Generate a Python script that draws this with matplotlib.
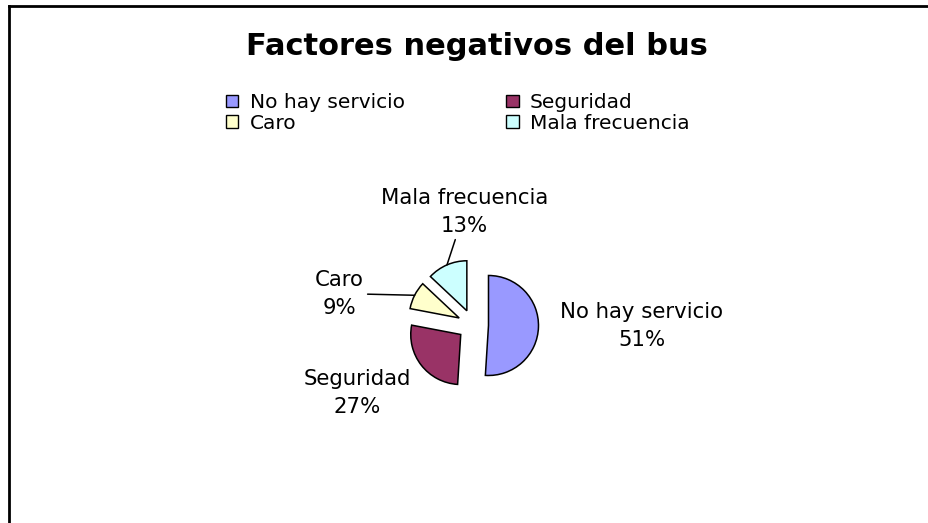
import numpy as np
import matplotlib
matplotlib.use("Agg")
import matplotlib.pyplot as plt
from matplotlib.patches import Patch
from matplotlib.lines import Line2D

# ---- data ----
categories = ["No hay servicio", "Seguridad", "Caro", "Mala frecuencia"]
values = [51, 27, 9, 13]
colors = ["#9999FF", "#993366", "#FFFFCC", "#CCFFFF"]
title = "Factores negativos del bus"

# label text positions (pie-radius units, relative to pie centre) and leader flags
label_pos = [(3.38, -0.02), (-2.32, -1.36), (-2.68, 0.63), (-0.17, 2.27)]
leader = [False, False, True, True]

W, H = 929, 523
fig = plt.figure(figsize=(W / 100, H / 100), dpi=100)
plt.rcParams['font.family'] = ['DejaVu Sans']

# axes spanning whole figure; 1 data unit = 50 px, pie centre at pixel (473, 325)
R = 50.0
cx, cy = 473.0, 325.0
ax = fig.add_axes([0, 0, 1, 1])
wedges, _ = ax.pie(values, colors=colors, startangle=90, counterclock=False,
                   explode=[0.31] * len(values), radius=1,
                   wedgeprops=dict(edgecolor="black", linewidth=1.1))
ax.set_xlim(-cx / R, (W - cx) / R)
ax.set_ylim(-(H - cy) / R, cy / R)
ax.set_aspect("equal")
ax.axis("off")

total = sum(values)
for i, (w, cat, v) in enumerate(zip(wedges, categories, values)):
    txt = f"{cat}\n{round(100 * v / total)}%"
    mid = np.deg2rad((w.theta1 + w.theta2) / 2)
    c = w.center
    arc = (c[0] + w.r * np.cos(mid), c[1] + w.r * np.sin(mid))
    if leader[i]:
        ax.annotate(txt, xy=arc, xytext=label_pos[i], ha="center", va="center",
                    fontsize=15.3, linespacing=1.5,
                    arrowprops=dict(arrowstyle="-", color="black", lw=1.1,
                                    shrinkA=1, shrinkB=0))
    else:
        ax.text(label_pos[i][0], label_pos[i][1], txt, ha="center", va="center",
                fontsize=15.3, linespacing=1.5)

# title
fig.text(477 / W, 1 - 55 / H, title, ha="center", va="baseline",
         fontsize=22, fontweight="bold")

# legend (column-wise order so rows read: No hay / Seguridad, Caro / Mala)
order = [0, 2, 1, 3]
handles = [Patch(facecolor=colors[k], edgecolor="black", linewidth=1.0) for k in order]
labels = [categories[k] for k in order]
fig.legend(handles, labels, ncol=2, loc="upper left",
           bbox_to_anchor=(226 / W, 1 - 93 / H), frameon=False,
           fontsize=14.5, handlelength=0.62, handleheight=0.55,
           handletextpad=0.55, columnspacing=5.05, labelspacing=0.08,
           borderpad=0, borderaxespad=0)

# outer frame (left and top edges visible)
fig.add_artist(Line2D([9.5 / W, 9.5 / W], [0, 1 - 6.3 / H], color="black", lw=2.0,
                      transform=fig.transFigure))
fig.add_artist(Line2D([9.5 / W, 1], [1 - 6.3 / H, 1 - 6.3 / H], color="black", lw=2.0,
                      transform=fig.transFigure))

fig.savefig("out.png", dpi=100, facecolor="white")
